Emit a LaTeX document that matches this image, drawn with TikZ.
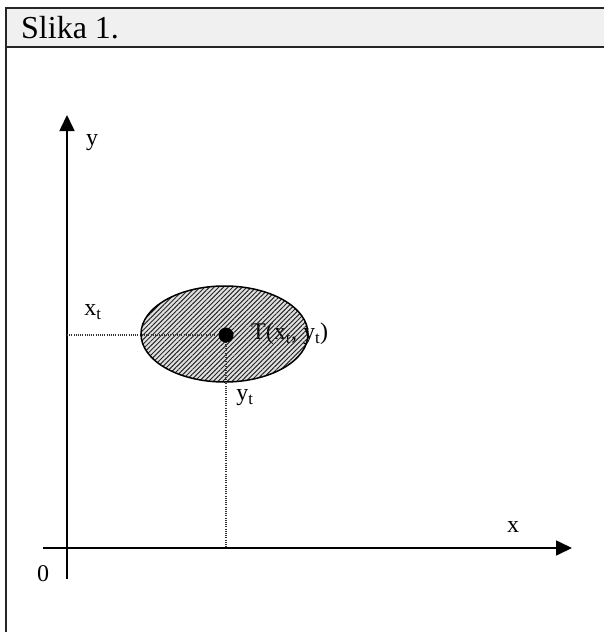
\documentclass[tikz,border=0pt]{standalone}
\usepackage{fontspec}
\setmainfont{Liberation Serif}
\usetikzlibrary{patterns.meta,arrows.meta}
\begin{document}
\begin{tikzpicture}[x=1pt,y=-1pt,
  axis/.style={line width=1.6pt,-{Triangle[length=16pt,width=15pt]}},
  guide/.style={line width=1.3pt,black!80,dash pattern=on 1pt off 1.2pt},
  lbl/.style={font=\fontsize{24}{27}\selectfont,inner sep=0pt},
  frameline/.style={line width=1.5pt,black!85}]
\useasboundingbox (0,0) rectangle (604,632);
% header
\fill[black!6] (6,8) rectangle (604,47);
\draw[frameline] (604,8) -- (6,8) -- (6,632);
\draw[frameline] (6,47) -- (604,47);
\node[anchor=west,inner sep=0pt,font=\fontsize{32}{36}\selectfont] (title) at (21,28) {Slika 1.};
% axes
\coordinate (xs) at (43,548);
\coordinate (xe) at (572,548);
\coordinate (ys) at (67,579);
\coordinate (ye) at (67,115);
\draw[axis] (xs) -- (xe);
\draw[axis] (ys) -- (ye);
\node[lbl] (xl) at (513,527) {x};
\node[lbl] (yl) at (92,143) {y};
\node[lbl] (zero) at (43,574) {0};
% ellipse
\coordinate (c) at (224.5,334);
\coordinate (p) at (226,335);
\coordinate (py) at (67,335);
\coordinate (px) at (226,548);
\fill[black!12] (c) ellipse [x radius=83.5,y radius=48];
\node[lbl,anchor=west] (T) at (251,334) {T(x\textsubscript{t}, y\textsubscript{t})};
\fill[pattern={Lines[angle=45,distance=3.3pt,line width=0.95pt]},pattern color=black!85] (c) ellipse [x radius=83.5,y radius=48];
\draw[guide] (py) -- (p);
\draw[guide] (p) -- (px);
\draw[line width=1.5pt] (c) ellipse [x radius=83.5,y radius=48];
\node[circle,fill=black,minimum size=15pt,inner sep=0pt] (dot) at (p) {};
\node[lbl] (xt) at (93,312) {x\textsubscript{t}};
\node[lbl] (yt) at (245,398) {y\textsubscript{t}};
\end{tikzpicture}
\end{document}
